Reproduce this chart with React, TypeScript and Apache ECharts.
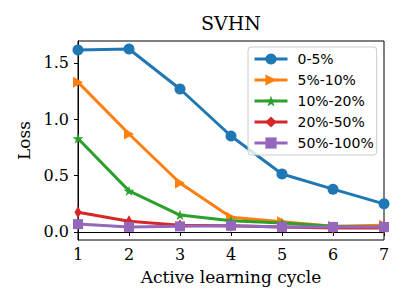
import React, { useEffect, useRef } from "react";
import * as echarts from "echarts";

const cycles = [1, 2, 3, 4, 5, 6, 7];
const seriesNames = ["0-5%", "5%-10%", "10%-20%", "20%-50%", "50%-100%"];
const loss0to5 = [1.615, 1.624, 1.269, 0.852, 0.515, 0.38, 0.25];
const loss5to10 = [1.33, 0.87, 0.435, 0.13, 0.09, 0.05, 0.06];
const loss10to20 = [0.83, 0.365, 0.15, 0.1, 0.08, 0.05, 0.04];
const loss20to50 = [0.175, 0.095, 0.06, 0.055, 0.045, 0.035, 0.035];
const loss50to100 = [0.07, 0.045, 0.05, 0.055, 0.045, 0.045, 0.045];
const yTicks = [0, 0.5, 1.0, 1.5];
const xTicks = [1, 2, 3, 4, 5, 6, 7];

const colors = ["#1f77b4", "#ff7f0e", "#2ca02c", "#d62728", "#9467bd"];
const STAR =
  "path://M10,0L12.23,6.93L19.51,6.91L13.61,11.17L15.88,18.09L10,13.8L4.12,18.09L6.39,11.17L0.49,6.91L7.77,6.93Z";
const TRI_RIGHT = "path://M0,0L10,5L0,10Z";

const symbols: any[] = [
  { symbol: "circle", size: 11 },
  { symbol: TRI_RIGHT, size: [10, 11] },
  { symbol: STAR, size: 11 },
  { symbol: "diamond", size: [7, 12] },
  { symbol: "rect", size: 10 },
];

const allData = [loss0to5, loss5to10, loss10to20, loss20to50, loss50to100];

export default function App() {
  const ref = useRef<HTMLDivElement>(null);
  useEffect(() => {
    if (!ref.current) return;
    const chart = echarts.init(ref.current, null, { renderer: "svg" });
    const serif = "DejaVu Serif";
    chart.setOption({
      animation: false,
      title: {
        text: "SVHN",
        left: 231,
        textAlign: "center",
        top: 13,
        padding: 0,
        textStyle: { fontFamily: serif, fontSize: 19, fontWeight: "normal", color: "#000" },
      },
      grid: {
        left: 78,
        right: 23,
        top: 41,
        bottom: 65,
        show: true,
        borderColor: "#000",
        borderWidth: 1,
        backgroundColor: "transparent",
      },
      legend: {
        orient: "vertical",
        left: 248,
        top: 47,
        padding: [5, 3, 5, 5],
        itemGap: 7,
        itemWidth: 33,
        itemHeight: 14,
        lineStyle: { width: 3 },
        backgroundColor: "rgba(255,255,255,0.8)",
        borderColor: "#cccccc",
        borderWidth: 1,
        borderRadius: 3,
        textStyle: { fontFamily: "DejaVu Sans", fontSize: 14, color: "#000", padding: [0, 0, 0, 5] },
        data: seriesNames,
      },
      xAxis: {
        type: "value",
        min: 1,
        max: 7,
        interval: 1,
        name: "Active learning cycle",
        nameLocation: "middle",
        nameGap: 28,
        nameTextStyle: { fontFamily: serif, fontSize: 17, color: "#000" },
        axisLine: { show: true, lineStyle: { color: "#000", width: 1 } },
        axisTick: { show: true, length: 4, lineStyle: { color: "#000" }, customValues: xTicks },
        axisLabel: { fontFamily: serif, fontSize: 16, color: "#000", margin: 6, customValues: xTicks },
        splitLine: { show: false },
      },
      yAxis: {
        type: "value",
        min: -0.071,
        max: 1.695,
        name: "Loss",
        nameLocation: "middle",
        nameGap: 44,
        nameTextStyle: { fontFamily: serif, fontSize: 17, color: "#000" },
        axisLine: { show: true, lineStyle: { color: "#000", width: 1 } },
        axisTick: { show: true, length: 4, lineStyle: { color: "#000" }, customValues: yTicks },
        axisLabel: {
          fontFamily: serif,
          fontSize: 16,
          color: "#000",
          margin: 9,
          customValues: yTicks,
          formatter: (v: number) => v.toFixed(1),
        },
        splitLine: { show: false },
      },
      series: seriesNames.map((name, i) => ({
        name,
        type: "line",
        data: cycles.map((c, j) => [c, allData[i][j]]),
        symbol: symbols[i].symbol,
        symbolSize: symbols[i].size,
        symbolKeepAspect: true,
        showSymbol: true,
        color: colors[i],
        lineStyle: { color: colors[i], width: 3 },
        itemStyle: { color: colors[i], borderWidth: 0 },
        z: 2 + i,
      })),
    });
    return () => chart.dispose();
  }, []);
  return (
    <div
      ref={ref}
      style={{ position: "fixed", left: 0, top: 0, width: 407, height: 305, background: "#fff" }}
    />
  );
}
